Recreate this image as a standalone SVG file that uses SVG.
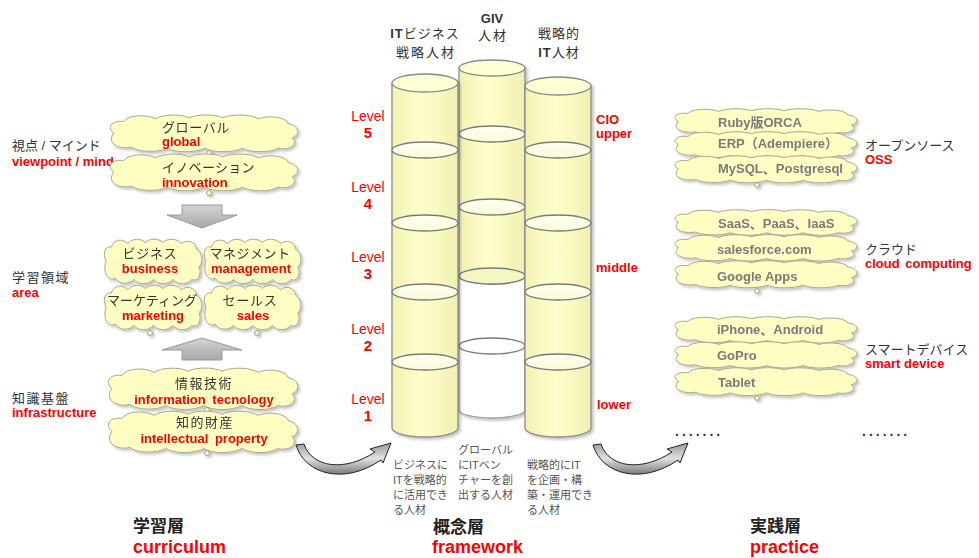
<svg xmlns="http://www.w3.org/2000/svg" xmlns:xlink="http://www.w3.org/1999/xlink" width="979" height="558" viewBox="0 0 979 558">
<style>
text{font-family:'Liberation Sans','Noto Sans CJK JP',sans-serif;}
.jp{font-size:13px;fill:#333;}
.en{font-size:13px;font-weight:bold;fill:#FF0000;}
.gr{font-size:13px;font-weight:bold;fill:#7a7a7a;}
.sm{font-size:11px;fill:#555;}
.lv{font-size:14px;fill:#FF0000;}
.lvn{font-size:15px;font-weight:bold;fill:#FF0000;}
.big{font-size:17px;font-weight:bold;fill:#222;}
.bigen{font-size:18px;font-weight:bold;fill:#FF0000;}
.cl{fill:#FFFFC4;stroke:#a8a890;}
.tail{fill:#FFFFC4;stroke:#999;stroke-width:1;}
.cyl{fill:url(#cylBody);stroke:#8a8a8a;stroke-width:1.3;}
.ring{fill:url(#ringFill);stroke:#7a7a7a;stroke-width:1.3;}
.top{fill:#FFFFD6;stroke:#8a8a8a;stroke-width:1.3;}
.blk{fill:url(#blkG);stroke:#9a9a9a;stroke-width:1;}
.crv{fill:url(#crvG);stroke:#222;stroke-width:1;}
</style>
<defs>
<path id="cloud" vector-effect="non-scaling-stroke" d="M 12,20 C 4,14 10,6 22,8 C 26,1 44,0 54,5 C 62,0 80,0 88,4 C 96,0 114,0 122,4 C 130,0 150,0 158,5 C 168,1 186,3 188,10 C 199,12 201,22 192,25 C 199,31 190,39 178,36 C 170,41 150,41 142,36 C 132,41 112,41 104,36 C 94,41 74,41 66,36 C 56,41 36,40 30,35 C 16,38 4,30 12,20 Z"/>
<linearGradient id="cylBody" x1="0" y1="0" x2="1" y2="0">
<stop offset="0" stop-color="#F2F2B4"/>
<stop offset="0.45" stop-color="#FFFFCC"/>
<stop offset="1" stop-color="#F0F0B2"/>
</linearGradient>
<linearGradient id="ringFill" x1="0" y1="0" x2="0" y2="1">
<stop offset="0" stop-color="#FFFFF0"/>
<stop offset="1" stop-color="#FAFAD8"/>
</linearGradient>
<linearGradient id="blkG" x1="0" y1="0" x2="0" y2="1">
<stop offset="0" stop-color="#d4d4d4"/>
<stop offset="1" stop-color="#a8a8a8"/>
</linearGradient>
<linearGradient id="crvG" x1="0" y1="0" x2="0" y2="1">
<stop offset="0" stop-color="#9a9a9a"/>
<stop offset="0.5" stop-color="#e0e0e0"/>
<stop offset="1" stop-color="#7a7a7a"/>
</linearGradient>
<filter id="sh" x="-20%" y="-20%" width="140%" height="140%">
<feDropShadow dx="2" dy="2" stdDeviation="1.8" flood-color="#000" flood-opacity="0.25"/>
</filter>
</defs>

<!-- connectors -->
<g id="connectors">
<polygon class="blk" points="182,205 222,205 222,215 237,215 202,228 167,215 182,215"/>
<polygon class="blk" points="202,338 242,350 222,350 222,360 182,360 182,350 162,350"/>
<path class="crv" d="M 296,445 C 305,475 345,485 381,460 L 383,463 L 391,443 L 370,449 L 375,452 C 345,472 312,468 304,444 Z"/>
<path class="crv" transform="translate(297,0)" d="M 296,445 C 305,475 345,485 381,460 L 383,463 L 391,443 L 370,449 L 375,452 C 345,472 312,468 304,444 Z"/>
</g>

<!-- left labels -->
<g id="label-viewpoint">
<text class="jp" x="12" y="150">視点 / マインド</text>
<text class="en" x="12" y="166">viewpoint / mind</text>
</g>
<g id="label-area">
<text class="jp" x="12" y="282" letter-spacing="1.5">学習領域</text>
<text class="en" x="12" y="297">area</text>
</g>
<g id="label-infra">
<text class="jp" x="12" y="403" letter-spacing="1.5">知識基盤</text>
<text class="en" x="12" y="417">infrastructure</text>
</g>

<!-- left clouds -->
<g id="cloud-global" filter="url(#sh)">
<use href="#cloud" class="cl" transform="translate(102,114) scale(0.99,0.95)"/>
<circle class="tail" cx="209" cy="153" r="2.5"/>
<text class="jp" x="162" y="132" letter-spacing="0.6">グローバル</text>
<text class="en" x="162" y="146">global</text>
</g>
<g id="cloud-innovation" filter="url(#sh)">
<use href="#cloud" class="cl" transform="translate(102,153) scale(0.99,0.95)"/>
<circle class="tail" cx="209" cy="193" r="2.5"/>
<text class="jp" x="162" y="172" letter-spacing="0.3">イノベーション</text>
<text class="en" x="162" y="187">innovation</text>
</g>
<g id="cloud-business" filter="url(#sh)">
<use href="#cloud" class="cl" transform="translate(100,238) scale(0.515,1.15)"/>
<text class="jp" x="150" y="258" text-anchor="middle" letter-spacing="0.8">ビジネス</text>
<text class="en" x="150" y="273" text-anchor="middle">business</text>
</g>
<g id="cloud-management" filter="url(#sh)">
<use href="#cloud" class="cl" transform="translate(200,238) scale(0.51,1.15)"/>
<text class="jp" x="250" y="258" text-anchor="middle" letter-spacing="0.5">マネジメント</text>
<text class="en" x="251" y="273" text-anchor="middle">management</text>
</g>
<g id="cloud-marketing" filter="url(#sh)">
<use href="#cloud" class="cl" transform="translate(100,284) scale(0.515,1.15)"/>
<circle class="tail" cx="150" cy="333" r="2.5"/>
<text class="jp" x="152" y="305" text-anchor="middle">マーケティング</text>
<text class="en" x="153" y="320" text-anchor="middle">marketing</text>
</g>
<g id="cloud-sales" filter="url(#sh)">
<use href="#cloud" class="cl" transform="translate(200,284) scale(0.51,1.15)"/>
<circle class="tail" cx="257" cy="333" r="2.5"/>
<text class="jp" x="250" y="305" text-anchor="middle" letter-spacing="0.8">セールス</text>
<text class="en" x="253" y="320" text-anchor="middle">sales</text>
</g>
<g id="cloud-it" filter="url(#sh)">
<use href="#cloud" class="cl" transform="translate(100,367) scale(1,1.07)"/>
<circle class="tail" cx="207" cy="410" r="2.5"/>
<text class="jp" x="204" y="388" text-anchor="middle" letter-spacing="1.5">情報技術</text>
<text class="en" x="204" y="404" text-anchor="middle" word-spacing="3">information tecnology</text>
</g>
<g id="cloud-ip" filter="url(#sh)">
<use href="#cloud" class="cl" transform="translate(100,410) scale(1,1.07)"/>
<circle class="tail" cx="207" cy="453" r="2.5"/>
<text class="jp" x="205" y="427" text-anchor="middle" letter-spacing="1.5">知的財産</text>
<text class="en" x="204" y="443" text-anchor="middle" word-spacing="3">intellectual property</text>
</g>

<!-- cylinders -->
<g id="col-giv" filter="url(#sh)">
<path d="M459,276 L459,410 A33,8 0 0 0 525,410 L525,276 Z" fill="#fff" stroke="#a0a0a0" stroke-width="1.3"/>
<ellipse cx="492" cy="346" rx="33" ry="8" fill="#fff" stroke="#7a7a7a" stroke-width="1.3"/>
<path class="cyl" d="M459,68 L459,276 A33,8 0 0 0 525,276 L525,68 Z"/>
<ellipse class="top" cx="492" cy="68" rx="33" ry="8"/>
<ellipse class="ring" cx="492" cy="134" rx="33" ry="8"/>
<ellipse class="ring" cx="492" cy="207" rx="33" ry="8"/>
<ellipse cx="492" cy="276" rx="33" ry="8" fill="#F6F6C4" stroke="#7a7a7a" stroke-width="1.3"/>
</g>
<g id="col-itbiz" filter="url(#sh)">
<path class="cyl" d="M392,83 L392,428 A33,9 0 0 0 458,428 L458,83 Z"/>
<ellipse class="top" cx="425" cy="83" rx="33" ry="9"/>
<ellipse class="ring" cx="425" cy="150" rx="33" ry="8"/>
<ellipse class="ring" cx="425" cy="223" rx="33" ry="8"/>
<ellipse class="ring" cx="425" cy="292" rx="33" ry="8"/>
<ellipse class="ring" cx="425" cy="362" rx="33" ry="8"/>
</g>
<g id="col-strategic" filter="url(#sh)">
<path class="cyl" d="M525,86 L525,428 A33,9 0 0 0 591,428 L591,86 Z"/>
<ellipse class="top" cx="558" cy="86" rx="33" ry="9"/>
<ellipse class="ring" cx="558" cy="150" rx="33" ry="8"/>
<ellipse class="ring" cx="558" cy="223" rx="33" ry="8"/>
<ellipse class="ring" cx="558" cy="292" rx="33" ry="8"/>
<ellipse class="ring" cx="558" cy="362" rx="33" ry="8"/>
</g>

<!-- column titles -->
<g id="title-itbiz">
<text class="jp" x="425" y="38" text-anchor="middle" letter-spacing="1"><tspan font-weight="bold">IT</tspan>ビジネス</text>
<text class="jp" x="426" y="57" text-anchor="middle" letter-spacing="2">戦略人材</text>
</g>
<g id="title-giv">
<text class="jp" x="492" y="23" text-anchor="middle" font-weight="bold">GIV</text>
<text class="jp" x="493" y="40" text-anchor="middle" letter-spacing="2">人材</text>
</g>
<g id="title-strategic">
<text class="jp" x="559" y="38" text-anchor="middle" letter-spacing="1">戦略的</text>
<text class="jp" x="559" y="57" text-anchor="middle" letter-spacing="1"><tspan font-weight="bold">IT</tspan>人材</text>
</g>

<!-- levels -->
<g id="levels">
<text class="lv" x="368" y="121" text-anchor="middle">Level</text>
<text class="lvn" x="368" y="138" text-anchor="middle">5</text>
<text class="lv" x="368" y="192" text-anchor="middle">Level</text>
<text class="lvn" x="368" y="209" text-anchor="middle">4</text>
<text class="lv" x="368" y="262" text-anchor="middle">Level</text>
<text class="lvn" x="368" y="279" text-anchor="middle">3</text>
<text class="lv" x="368" y="334" text-anchor="middle">Level</text>
<text class="lvn" x="368" y="351" text-anchor="middle">2</text>
<text class="lv" x="368" y="404" text-anchor="middle">Level</text>
<text class="lvn" x="368" y="421" text-anchor="middle">1</text>
</g>
<g id="positions">
<text class="en" x="596" y="124" font-size="14">CIO</text>
<text class="en" x="596" y="138" font-size="14">upper</text>
<text class="en" x="596" y="272">middle</text>
<text class="en" x="597" y="409" font-size="15.5">lower</text>
</g>

<!-- descriptions -->
<g id="desc-itbiz">
<text class="sm" x="393" y="469">ビジネスに</text>
<text class="sm" x="393" y="484">ITを戦略的</text>
<text class="sm" x="393" y="499">に活用でき</text>
<text class="sm" x="393" y="514">る人材</text>
</g>
<g id="desc-giv">
<text class="sm" x="458" y="454">グローバル</text>
<text class="sm" x="458" y="469">にITベン</text>
<text class="sm" x="458" y="484">チャーを創</text>
<text class="sm" x="458" y="499">出する人材</text>
</g>
<g id="desc-strategic">
<text class="sm" x="527" y="469">戦略的にIT</text>
<text class="sm" x="527" y="484">を企画・構</text>
<text class="sm" x="527" y="499">築・運用でき</text>
<text class="sm" x="527" y="514">る人材</text>
</g>

<!-- right clouds -->
<g id="cloud-ruby" filter="url(#sh)">
<use href="#cloud" class="cl" transform="translate(667,108) scale(0.96,0.68)"/>
<text class="gr" x="718" y="127">Ruby版ORCA</text>
</g>
<g id="cloud-erp" filter="url(#sh)">
<use href="#cloud" class="cl" transform="translate(667,131) scale(0.96,0.68)"/>
<text class="gr" x="718" y="148">ERP（Adempiere）</text>
</g>
<g id="cloud-mysql" filter="url(#sh)">
<use href="#cloud" class="cl" transform="translate(667,155) scale(0.96,0.7)"/>
<circle class="tail" cx="757" cy="185" r="2.3"/>
<text class="gr" x="718" y="173">MySQL、Postgresql</text>
</g>
<g id="label-oss">
<text class="jp" x="865" y="150">オープンソース</text>
<text class="en" x="865" y="164">OSS</text>
</g>

<g id="cloud-saas" filter="url(#sh)">
<use href="#cloud" class="cl" transform="translate(667,209) scale(0.96,0.66)"/>
<text class="gr" x="718" y="228">SaaS、PaaS、IaaS</text>
</g>
<g id="cloud-salesforce" filter="url(#sh)">
<use href="#cloud" class="cl" transform="translate(667,234) scale(0.96,0.68)"/>
<text class="gr" x="717" y="254">salesforce.com</text>
</g>
<g id="cloud-google" filter="url(#sh)">
<use href="#cloud" class="cl" transform="translate(667,260) scale(0.96,0.7)"/>
<circle class="tail" cx="757" cy="291" r="2.3"/>
<text class="gr" x="717" y="281">Google Apps</text>
</g>
<g id="label-cloud">
<text class="jp" x="865" y="254">クラウド</text>
<text class="en" x="865" y="268" word-spacing="2">cloud computing</text>
</g>

<g id="cloud-iphone" filter="url(#sh)">
<use href="#cloud" class="cl" transform="translate(667,316) scale(0.96,0.68)"/>
<text class="gr" x="717" y="334">iPhone、Android</text>
</g>
<g id="cloud-gopro" filter="url(#sh)">
<use href="#cloud" class="cl" transform="translate(667,341) scale(0.96,0.68)"/>
<text class="gr" x="717" y="360">GoPro</text>
</g>
<g id="cloud-tablet" filter="url(#sh)">
<use href="#cloud" class="cl" transform="translate(667,367) scale(0.96,0.72)"/>
<circle class="tail" cx="757" cy="398" r="2.3"/>
<text class="gr" x="718" y="387">Tablet</text>
</g>
<g id="label-smart">
<text class="jp" x="865" y="354">スマートデバイス</text>
<text class="en" x="865" y="368">smart device</text>
</g>

<g id="dots">
<text x="675" y="436" font-size="14" font-weight="bold" fill="#333" letter-spacing="3">.......</text>
<text x="862" y="436" font-size="14" font-weight="bold" fill="#333" letter-spacing="3">.......</text>
</g>

<!-- layer titles -->
<g id="layer-curriculum">
<text class="big" x="133" y="532">学習層</text>
<text class="bigen" x="133" y="553">curriculum</text>
</g>
<g id="layer-framework">
<text class="big" x="433" y="533">概念層</text>
<text class="bigen" x="432" y="553">framework</text>
</g>
<g id="layer-practice">
<text class="big" x="750" y="532">実践層</text>
<text class="bigen" x="750" y="553">practice</text>
</g>
</svg>
